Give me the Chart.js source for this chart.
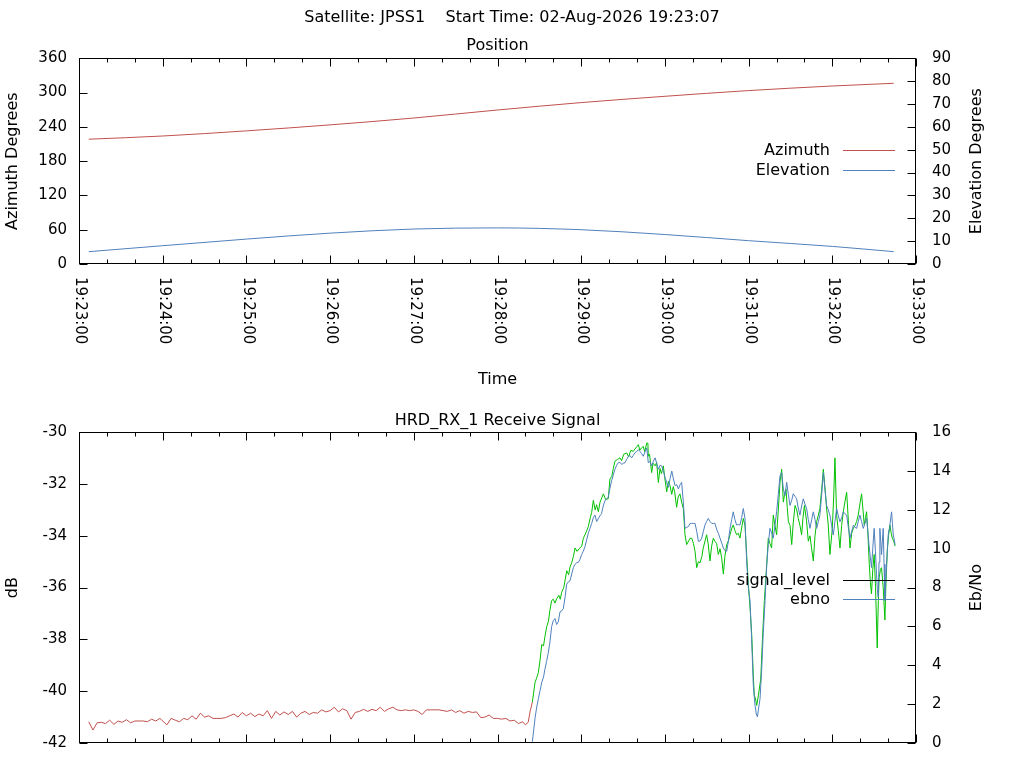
<!DOCTYPE html>
<html><head><meta charset="utf-8">
<script src="https://cdn.jsdelivr.net/npm/chart.js@4.4.0/dist/chart.umd.min.js"></script>
<style>
html,body{margin:0;padding:0;background:#fff;overflow:hidden;width:1024px;height:768px}
#wrapA{position:absolute;left:0;top:0;width:1024px;height:400px}
#wrapB{position:absolute;left:0;top:400px;width:1024px;height:368px}
</style></head><body>
<div id="wrapA"><canvas id="cA"></canvas></div>
<div id="wrapB"><canvas id="cB"></canvas></div>
<script>
// ---------- DATA (seconds after 19:23:00) ----------
const mainTitle = 'Satellite: JPSS1    Start Time: 02-Aug-2026 19:23:07';
const timeTickLabels = ['19:23:00','19:24:00','19:25:00','19:26:00','19:27:00','19:28:00','19:29:00','19:30:00','19:31:00','19:32:00','19:33:00'];

const posTimeSec   = [7, 60, 120, 180, 240, 300, 360, 420, 480, 540, 584];
const azimuthDeg   = [218.4, 224, 233, 243.5, 255.5, 269.5, 282.5, 293.5, 303.5, 311.5, 316.3];
const elevationDeg = [5.4, 8.0, 10.9, 13.5, 15.3, 15.8, 15.0, 12.9, 10.2, 7.7, 5.4];

const sigTimeSec = [
 7,10,13,16,19,22,25,28,31,34,37,40,43,46,49,52,55,58,61,63,66,69,72,75,78,81,84,87,90,93,96,99,102,105,108,111,114,117,120,123,126,129,132,135,138,141,144,147,150,153,156,159,162,165,168,171,174,177,180,183,186,189,192,195,198,201,204,207,210,213,216,219,222,225,228,231,234,237,240,243,246,249,252,255,258,261,264,267,270,273,276,279,282,285,288,291,294,297,300,303,306,309,312,315,318,320,322,323.5,325,
 326.9,328,329.3,330.5,331.7,333,334,335.3,336.5,337.5,338.8,340,341.2,342.4,344,345,346,347.5,348.5,349.6,351,352,353.2,354.4,355.6,357,358.5,360.4,361.5,362.7,364,365.1,366.5,367.5,368.7,370,371,372.3,373.5,375,375.9,377.5,379.4,380.6,382,383,384.2,386,387.8,389,390.5,392.6,394,395.5,397.3,398.5,400,401,402,403.3,404.5,405.5,407,407.8,408.1,409,410.5,411.5,413,414.1,415.3,416.5,417.5,418.9,420,421.3,422.5,423.7,424.9,426,427,428.4,429.5,430.8,432,433.2,434.4,435.6,437,438,439.2,440.5,441.6,442.8,444,445.2,446.5,447.5,448.8,449.9,451,452.3,453.5,454.7,455.9,457.1,458.3,459.5,460.7,461.9,463,464.3,465.5,466.7,468,469,470.2,471.4,472.6,473.8,475,476.2,477.4,478.6,479.8,481,482.2,483.4,484.1,485,485.8,487,488.7,489.9,491.3,493,494.1,495.3,496.5,497.7,498.9,500.1,501.3,502.5,503.7,504.9,505.8,506.8,507.7,508.5,509.7,510.9,512,513.3,514.5,515.6,516.8,518,519,520,521.5,522.8,524,525.2,526.4,527.6,528.8,530,531.1,532.4,533.6,535.2,536,537.1,538.3,539.2,540,541,541.9,543.1,544.3,545.5,546.7,547.9,549,550.3,551.5,552.7,553.9,555.1,556.3,557.4,558.6,560,561,562,562.9,563.8,564.6,565.6,566.5,567.3,568.1,569,570,571,572.2,573,573.6,574.5,575.3,576.5,577.7,578.5,579.4,580.3,581.3,582.2,583,584,585];
const signalLevelDb = [
 -41.18,-41.50,-41.22,-41.20,-41.25,-41.12,-41.28,-41.15,-41.20,-41.10,-41.22,-41.15,-41.15,-41.15,-41.18,-41.08,-41.15,-41.05,-41.20,-41.30,-41.05,-41.12,-41.18,-41.05,-41.10,-40.95,-41.08,-40.85,-41.00,-40.95,-41.05,-41.05,-41.05,-41.02,-40.95,-40.88,-41.00,-40.82,-40.95,-40.85,-40.98,-40.88,-40.95,-40.75,-41.05,-40.78,-40.92,-40.80,-40.90,-40.78,-41.00,-40.85,-40.78,-40.90,-40.82,-40.85,-40.72,-40.80,-40.75,-40.62,-40.80,-40.68,-40.75,-41.08,-40.82,-40.78,-40.70,-40.78,-40.70,-40.75,-40.62,-40.78,-40.68,-40.62,-40.72,-40.75,-40.72,-40.75,-40.72,-40.78,-40.90,-40.72,-40.72,-40.72,-40.72,-40.75,-40.78,-40.72,-40.82,-40.75,-40.85,-40.78,-40.82,-40.80,-41.02,-41.00,-40.92,-41.05,-41.05,-41.08,-41.05,-41.15,-41.12,-41.25,-41.18,-41.30,-41.20,-40.75,-40.42,
 -39.66,-39.5,-39.28,-38.8,-38.2,-38.25,-37.89,-37.5,-37.3,-36.9,-36.5,-36.45,-36.6,-36.43,-36.3,-36.45,-36.18,-36.0,-35.7,-35.35,-35.5,-35.2,-35.04,-34.8,-34.47,-34.6,-34.5,-34.4,-34.1,-33.96,-33.8,-33.64,-33.3,-33.1,-32.63,-33.0,-32.8,-33.07,-32.7,-32.5,-32.38,-32.6,-32.57,-31.81,-31.7,-31.4,-31.12,-31.05,-30.99,-31.1,-30.85,-30.8,-30.95,-30.7,-30.74,-30.65,-30.55,-30.48,-30.7,-30.6,-30.55,-30.75,-30.42,-30.42,-30.93,-30.85,-31.56,-31.2,-31.3,-31.17,-31.94,-31.4,-31.6,-31.3,-31.8,-32.3,-31.9,-32.06,-32.4,-32.1,-32.3,-32.9,-32.5,-32.38,-32.7,-32.95,-33.96,-34.34,-34.2,-34.1,-34.09,-34.3,-34.6,-35.23,-35.0,-35.04,-34.8,-34.47,-34.2,-33.96,-34.3,-34.97,-34.4,-34.09,-34.21,-34.3,-34.72,-34.5,-34.85,-35.48,-34.8,-34.34,-34.2,-33.96,-33.7,-33.58,-33.8,-33.96,-33.9,-34.09,-33.7,-33.33,-33.6,-34.72,-35.86,-36.75,-37.76,-39.41,-40.17,-40.3,-40.55,-40.17,-39.53,-38.01,-36.5,-35.1,-34.09,-34.3,-34.47,-33.2,-33.6,-33.96,-33.0,-31.94,-31.43,-32.7,-32.4,-32.19,-32.9,-33.45,-33.6,-34.34,-33.5,-32.83,-33.0,-33.33,-33.6,-33.96,-33.3,-32.83,-33.4,-34.21,-34.0,-34.5,-34.97,-34.0,-33.45,-33.2,-32.95,-32.2,-31.43,-32.44,-33.0,-33.58,-34.72,-34.2,-33.71,-32.5,-30.99,-33.2,-33.8,-34.47,-33.6,-33.07,-32.7,-32.32,-33.4,-34.47,-33.9,-33.71,-33.6,-33.45,-33.2,-32.7,-32.38,-33.0,-33.58,-33.3,-33.07,-34.0,-35.1,-35.8,-36.24,-35.3,-34.72,-36.0,-38.33,-36.5,-35.61,-35.3,-35.23,-36.0,-37.25,-35.8,-34.6,-34.0,-33.58,-33.9,-34.09,-34.2,-34.4];

const ebnoTimeSec = [
 324,325,326,326.9,328,329.3,330.5,331.7,333,334,335.2,336.4,337.6,338.8,340,341.2,342.4,343.6,344.8,346,347.2,348.4,349.6,350.8,352,353.2,354.4,355.6,356.8,358,359.1,360.3,361.5,362.7,363.9,365.1,366.3,367.5,368.7,369.9,371.1,372.3,373.5,374.6,375.8,377.1,378.2,379.4,380.6,381.8,383,384.2,385.4,386.6,387.8,389,390.2,391.4,392.6,393.8,395,396.1,397.3,398.5,399.7,401,402.2,403.3,404.5,405.8,407,408.1,409.3,410.5,411.7,413,414.1,415.3,416.5,417.7,418.9,420.1,421.3,422.5,423.7,424.9,426.1,427.3,428.5,429.7,430.9,432,433.2,434.4,435.6,436.8,438,439.2,440.4,441.6,442.8,444,445.2,446.4,447.6,448.7,449.9,451.1,452.3,453.5,454.7,455.9,457.1,458.3,459.5,460.7,461.9,463.1,464.3,465.5,466.7,467.9,469,470.2,471.4,472.6,473.8,475,476.2,477.4,478.6,479.8,481,482.2,483.4,484.6,485.5,486.3,487.2,488.2,489.4,490.5,491.8,493,494.1,495.3,496.5,497.7,498.9,500.1,501.3,502.5,503.7,504.9,506.1,507.3,508.5,509.7,510.9,512,513.2,514.4,515.6,516.8,518,519.2,520.4,521.6,522.8,524,525.2,526.4,527.6,528.8,530,531.1,532.4,533.6,534.8,535.9,537.1,538.3,539.5,540.7,541.9,543.1,544.3,545.5,546.7,547.9,549.1,550.3,551.5,552.7,553.9,555.1,556.3,557.4,558.6,559.8,561,562.2,563.4,564.6,565.5,566.3,567.2,568.1,569,570,570.9,571.7,572.3,572.9,573.5,574.1,574.7,575.3,575.9,576.5,577.1,577.7,578.3,578.9,579.5,580.1,580.7,581.3,581.9,582.5,583.1,583.7,584.3,585];
const ebnoDb = [
 0,0.08,0.7,1.27,1.8,2.28,2.7,3.12,3.4,3.8,4.2,4.64,5.2,5.99,6.3,6.41,6.1,6.24,6.75,6.8,6.92,7.5,8.18,8.3,8.35,8.7,9.03,9.2,9.28,9.3,9.45,9.7,9.87,10.1,10.46,10.8,11.05,11.3,11.6,11.73,11.4,11.56,11.7,11.81,12.2,12.49,12.55,12.66,13.1,13.5,13.8,14.09,14.3,14.43,14.45,14.34,14.4,14.43,14.6,14.76,14.8,14.68,14.8,14.94,15.0,15.1,15.0,14.9,14.76,15.0,15.19,14.43,14.5,14.26,14.5,14.68,14.4,14.09,14.3,14.26,14.0,13.67,13.4,13.16,13.6,14.0,13.6,13.25,13.3,13.08,13.3,13.42,12.4,11.05,11.1,11.14,11.3,11.31,11.3,11.31,10.9,10.38,10.4,10.55,10.9,11.22,11.4,11.56,11.4,11.31,11.3,11.31,11.0,10.8,10.55,10.3,10.04,9.9,9.87,10.4,11.05,11.5,11.9,11.5,11.22,11.25,11.22,11.6,12.07,11.56,9.37,8.01,7.34,5.32,2.95,1.94,1.5,1.35,1.8,2.28,3.8,5.65,7.34,9.19,10.21,11.05,10.8,10.55,11.2,11.9,12.8,13.75,13.92,13.08,12.74,13.42,12.8,12.23,12.5,12.83,12.7,12.57,12.1,11.73,12.2,12.57,12.3,12.07,11.5,11.05,11.5,11.9,11.5,11.05,11.4,11.73,12.8,13.92,13.0,12.23,12.0,11.73,11.2,10.71,11.4,12.07,11.7,11.39,11.6,11.9,11.8,11.73,11.1,10.55,10.9,11.22,11.1,11.05,11.4,11.73,11.4,11.05,11.3,11.56,10.9,10.21,9.6,9.03,10.0,11.05,9.9,8.69,7.9,7.51,9.3,11.05,10.4,9.7,10.4,11.05,9.2,7.34,8.3,9.19,10.0,10.71,11.0,11.22,11.6,11.9,11.3,10.71,10.5,10.21];

// ---------- STYLE ----------
const RED = '#c0504d', BLUE = '#4f81bd', GREEN = '#00c000';
const FONT = 'DejaVu Sans';
Chart.defaults.font.family = FONT;
Chart.defaults.font.size = 15;
Chart.defaults.color = '#000';

const zip = (xs, ys) => xs.map((x, i) => ({x, y: ys[i]}));

const framePlugin = {
  id: 'frame',
  afterDatasetsDraw(chart, args, o) {
    const {ctx, chartArea: a, scales} = chart;
    ctx.save();
    ctx.strokeStyle = '#000';
    ctx.lineWidth = 1;
    const L = Math.round(a.left) + 0.5, R = Math.round(a.right) - 0.5;
    const T = Math.round(a.top) + 0.5, B = Math.round(a.bottom) - 0.5;
    ctx.beginPath();
    const xs = scales.x;
    for (let v = xs.min; v <= xs.max; v += 20) {
      const px = Math.round(xs.getPixelForValue(v)) + 0.5;
      const len = (v % 60 === 0) ? 8 : 4;
      ctx.moveTo(px, B); ctx.lineTo(px, B - len);
      ctx.moveTo(px, T); ctx.lineTo(px, T + len);
    }
    scales.y.ticks.forEach(t => {
      const py = Math.round(scales.y.getPixelForValue(t.value)) + 0.5;
      ctx.moveTo(L, py); ctx.lineTo(L + 8, py);
    });
    scales.y2.ticks.forEach(t => {
      const py = Math.round(scales.y2.getPixelForValue(t.value)) + 0.5;
      ctx.moveTo(R, py); ctx.lineTo(R - 8, py);
    });
    ctx.stroke();
    ctx.strokeRect(L, T, R - L, B - T);

    ctx.fillStyle = '#000';
    if (o.xLabels) {
      ctx.font = '15px "' + FONT + '"';
      ctx.textAlign = 'left';
      ctx.textBaseline = 'middle';
      o.xLabels.forEach((lab, i) => {
        const px = xs.getPixelForValue(i * 60);
        ctx.save();
        ctx.translate(px + 1, a.bottom + 13);
        ctx.rotate(Math.PI / 2);
        ctx.fillText(lab, 0, 0);
        ctx.restore();
      });
    }
    if (o.rightTitle) {
      ctx.save();
      ctx.font = '16px "' + FONT + '"';
      ctx.textAlign = 'center';
      ctx.textBaseline = 'middle';
      ctx.translate(a.right + 61, (a.top + a.bottom) / 2);
      ctx.rotate(-Math.PI / 2);
      ctx.fillText(o.rightTitle, 0, 0);
      ctx.restore();
    }
    if (o.key) {
      ctx.font = '16px "' + FONT + '"';
      ctx.textAlign = 'right';
      ctx.textBaseline = 'middle';
      chart.data.datasets.forEach((ds, i) => {
        const y = Math.round(a.top + o.key.top + i * o.key.gap) + 0.5;
        ctx.fillStyle = '#000';
        ctx.fillText(ds.label, a.right - 86, y);
        ctx.strokeStyle = ds.keyColor || ds.borderColor;
        ctx.beginPath();
        ctx.moveTo(a.right - 73, y); ctx.lineTo(a.right - 21, y);
        ctx.stroke();
      });
    }
    ctx.restore();
  }
};

const noGrid = {display: false, drawTicks: false};
const noBorder = {display: false};
const titleFont = {size: 16, family: FONT, weight: 'normal'};

// ---------- TOP: Position ----------
new Chart(document.getElementById('cA'), {
  type: 'line',
  data: {
    datasets: [
      {label: 'Azimuth', data: zip(posTimeSec, azimuthDeg), yAxisID: 'y', borderColor: RED, borderWidth: 1, pointRadius: 0, cubicInterpolationMode: 'monotone'},
      {label: 'Elevation', data: zip(posTimeSec, elevationDeg), yAxisID: 'y2', borderColor: BLUE, borderWidth: 1, pointRadius: 0, cubicInterpolationMode: 'monotone'}
    ]
  },
  options: {
    responsive: true, maintainAspectRatio: false, animation: false,
    layout: {padding: 0},
    plugins: {
      legend: {display: false}, tooltip: {enabled: false},
      title: {display: true, text: mainTitle, font: titleFont, color: '#000', padding: {top: 8, bottom: 4.6}},
      subtitle: {display: true, text: 'Position', fullSize: false, font: titleFont, color: '#000', padding: {top: 4.6, bottom: 2.7}},
      frame: {xLabels: timeTickLabels, rightTitle: 'Elevation Degrees', key: {top: 92, gap: 19.5}}
    },
    scales: {
      x: {type: 'linear', min: 0, max: 600, grid: noGrid, border: noBorder,
          ticks: {display: false, stepSize: 20},
          title: {display: true, text: 'Time', font: titleFont, color: '#000', padding: {top: 0, bottom: 11}},
          afterFit(s) { s.height = 136; }},
      y: {position: 'left', min: 0, max: 360, grid: noGrid, border: noBorder,
          ticks: {stepSize: 60, padding: 12, color: '#000'},
          title: {display: true, text: 'Azimuth Degrees', font: titleFont, color: '#000', padding: {top: 3, bottom: 0}},
          afterFit(s) { s.width = 79; }},
      y2: {position: 'right', min: 0, max: 90, grid: noGrid, border: noBorder,
          ticks: {stepSize: 10, padding: 16, color: '#000'},
          afterFit(s) { s.width = 108; }}
    }
  },
  plugins: [framePlugin]
});

// ---------- BOTTOM: Receive Signal ----------
new Chart(document.getElementById('cB'), {
  type: 'line',
  data: {
    datasets: [
      {label: 'signal_level', data: zip(sigTimeSec, signalLevelDb), yAxisID: 'y', borderColor: '#000', keyColor: '#000', borderWidth: 1, pointRadius: 0, order: 1,
       segment: {borderColor: c => c.p0.parsed.x < 325 ? RED : GREEN}},
      {label: 'ebno', data: zip(ebnoTimeSec, ebnoDb), yAxisID: 'y2', borderColor: BLUE, borderWidth: 1, pointRadius: 0, order: 0}
    ]
  },
  options: {
    responsive: true, maintainAspectRatio: false, animation: false,
    layout: {padding: 0},
    plugins: {
      legend: {display: false}, tooltip: {enabled: false},
      title: {display: true, text: 'HRD_RX_1 Receive Signal', fullSize: false, font: titleFont, color: '#000', padding: {top: 11, bottom: 2}},
      frame: {rightTitle: 'Eb/No', key: {top: 148, gap: 19}}
    },
    scales: {
      x: {type: 'linear', min: 0, max: 600, grid: noGrid, border: noBorder,
          ticks: {display: false, stepSize: 20},
          afterFit(s) { s.height = 20; }},
      y: {position: 'left', min: -42, max: -30, grid: noGrid, border: noBorder,
          ticks: {stepSize: 2, padding: 12, color: '#000'},
          title: {display: true, text: 'dB', font: titleFont, color: '#000', padding: {top: 3, bottom: 0}},
          afterFit(s) { s.width = 79; }},
      y2: {position: 'right', min: 0, max: 16, grid: noGrid, border: noBorder,
          ticks: {stepSize: 2, padding: 16, color: '#000'},
          afterFit(s) { s.width = 108; }}
    }
  },
  plugins: [framePlugin]
});
</script>
</body></html>
